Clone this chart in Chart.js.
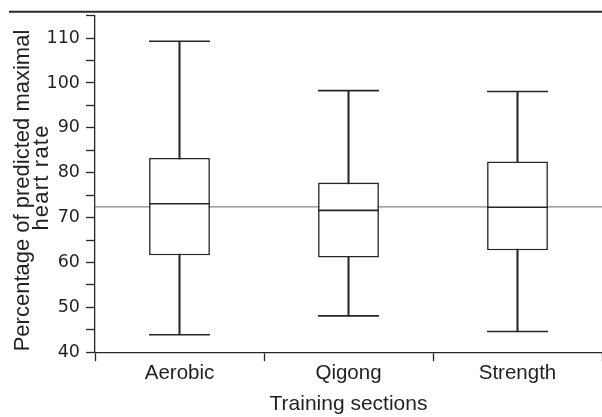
<!DOCTYPE html>
<html><head><meta charset="utf-8">
<script src="https://cdn.jsdelivr.net/npm/chart.js@4/dist/chart.umd.min.js"></script>
<style>html,body{margin:0;padding:0;background:#fff}#wrap{width:602px;height:417px;position:relative}</style>
</head><body><div id="wrap"><canvas id="c"></canvas></div>
<script>
// ---- data ----
const categories = ['Aerobic', 'Qigong', 'Strength'];
const whiskerLow  = [43.9, 48.1, 44.6];
const quartile1   = [61.6, 61.1, 62.7];
const medians     = [73.1, 71.6, 72.3];
const quartile3   = [83.3, 77.8, 82.5];
const whiskerHigh = [109.3, 98.3, 98.1];
const referenceLevel = 72.4;
const yMin = 40, yMax = 115, yStep = 5, yLabelStep = 10;
const yTitleLines = ['Percentage of predicted maximal', 'heart rate'];
const xTitle = 'Training sections';

const ink = '#262626';
const textInk = '#231f20';

const topRule = {
  id: 'topRule',
  afterDraw(chart) {
    const ctx = chart.ctx;
    ctx.save();
    ctx.strokeStyle = '#2a2a2a';
    ctx.lineWidth = 2;
    ctx.beginPath();
    ctx.moveTo(9, 11.7);
    ctx.lineTo(chart.width, 11.7);
    ctx.stroke();
    ctx.restore();
  }
};

const refLine = {
  id: 'refLine',
  beforeDatasetsDraw(chart) {
    const {ctx, chartArea, scales} = chart;
    const y = scales.y.getPixelForValue(referenceLevel);
    ctx.save();
    ctx.strokeStyle = '#858585';
    ctx.lineWidth = 1.3;
    ctx.beginPath();
    ctx.moveTo(chartArea.left, y);
    ctx.lineTo(chartArea.right, y);
    ctx.stroke();
    ctx.restore();
  }
};

const yTitle = {
  id: 'yTitle',
  afterDraw(chart) {
    const ctx = chart.ctx;
    const spots = [{x: 28.5, y: 190.5, ls: '0px'}, {x: 48, y: 177.5, ls: '1.2px'}];
    ctx.save();
    ctx.fillStyle = textInk;
    ctx.font = '22px "Liberation Sans", Arial, sans-serif';
    ctx.textAlign = 'center';
    ctx.textBaseline = 'alphabetic';
    yTitleLines.forEach((t, i) => {
      ctx.save();
      ctx.translate(spots[i].x, spots[i].y);
      ctx.rotate(-Math.PI / 2);
      try { ctx.letterSpacing = spots[i].ls; } catch (e) {}
      ctx.fillText(t, 0, 0);
      ctx.restore();
    });
    ctx.restore();
  }
};

const capStyle = {
  type: 'line', showLine: false, pointStyle: 'line', pointRadius: 30.5,
  pointHoverRadius: 30.5, borderColor: ink, pointBorderWidth: 1.6, borderWidth: 1.6, clip: false
};

new Chart(document.getElementById('c'), {
  type: 'bar',
  data: {
    labels: categories,
    datasets: [
      Object.assign({label: 'median', data: medians, order: 1}, capStyle),
      Object.assign({label: 'low', data: whiskerLow, order: 1}, capStyle),
      Object.assign({label: 'high', data: whiskerHigh, order: 1}, capStyle),
      {
        label: 'box', data: categories.map((c, i) => [quartile1[i], quartile3[i]]),
        backgroundColor: '#ffffff', borderColor: ink, borderWidth: 1.6, borderSkipped: false,
        barPercentage: 0.36, categoryPercentage: 1, grouped: false, order: 2
      },
      {
        label: 'whisker', data: categories.map((c, i) => [whiskerLow[i], whiskerHigh[i]]),
        backgroundColor: ink, borderWidth: 0, barThickness: 1.4, grouped: false, order: 3
      }
    ]
  },
  options: {
    responsive: true, maintainAspectRatio: false, animation: false, events: [],
    layout: {autoPadding: false, padding: {top: 15.7, right: 0, bottom: 0, left: 0}},
    plugins: {legend: {display: false}, tooltip: {enabled: false}},
    scales: {
      x: {
        offset: true,
        afterFit(s) { s.paddingLeft = 0; s.paddingRight = 0; },
        grid: {offset: true, drawOnChartArea: false, tickLength: 9, color: ink, tickColor: ink, tickWidth: 1.3},
        border: {color: ink, width: 1.3},
        ticks: {color: textInk, font: {family: '"Liberation Sans", Arial, sans-serif', size: 20.5}, padding: 0},
        title: {display: true, text: xTitle, color: textInk, font: {family: '"Liberation Sans", Arial, sans-serif', size: 21}, padding: {top: 6, bottom: 0}}
      },
      y: {
        min: yMin, max: yMax,
        afterFit(s) { s.width = 95; s.paddingTop = 0; s.paddingBottom = 0; },
        grid: {drawOnChartArea: false, tickLength: 9, color: ink, tickColor: ink, tickWidth: 1.3},
        border: {color: ink, width: 1.3},
        ticks: {
          stepSize: yStep, autoSkip: false, padding: 6, color: textInk,
          font: {family: '"DejaVu Sans", sans-serif', size: 17.5},
          callback: v => (v % yLabelStep === 0 && v < yMax) ? String(v) : ''
        }
      }
    }
  },
  plugins: [refLine, topRule, yTitle]
});
</script>
</body></html>
